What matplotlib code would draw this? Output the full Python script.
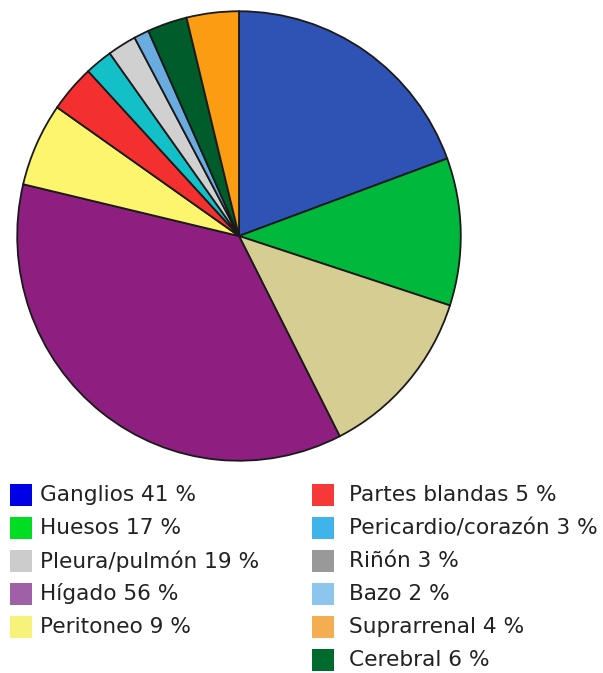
import matplotlib.pyplot as plt
from matplotlib.patches import Rectangle

# slices in drawing order (clockwise from top), sizes as drawn in the picture (%)
slice_names = ["Ganglios", "Huesos", "Pleura/pulmón", "Hígado", "Peritoneo",
               "Partes blandas", "Pericardio/corazón", "Riñón", "Bazo",
               "Cerebral", "Suprarrenal"]
slice_share = [19.4, 10.6, 12.5, 36.2, 6.0, 3.4, 2.0, 2.1, 1.1, 2.9, 3.8]
slice_colors = ["#2f52b5", "#00b83c", "#d6cd92", "#8e1e80", "#fdf56e",
                "#f42f2f", "#14c0c8", "#d0d0d0", "#6aacdf", "#005c2a", "#fb9d12"]

# legend entries
left_labels = ["Ganglios 41 %", "Huesos 17 %", "Pleura/pulmón 19 %",
               "Hígado 56 %", "Peritoneo 9 %"]
left_colors = ["#0000e6", "#00dd22", "#cccccc", "#a060a8", "#f6f27a"]
right_labels = ["Partes blandas 5 %", "Pericardio/corazón 3 %", "Riñón 3 %",
                "Bazo 2 %", "Suprarrenal 4 %", "Cerebral 6 %"]
right_colors = ["#f73838", "#3fb4ea", "#999999", "#8cc6ef", "#f4ad52", "#006b2c"]

W, H = 603, 673
fig = plt.figure(figsize=(W/100, H/100), dpi=100)
fig.patch.set_facecolor("white")

# pie is very slightly taller than wide in the reference
cx, cy, rx, ry = 239, 236, 224, 227
ax = fig.add_axes([(cx-rx)/W, (H-cy-ry)/H, 2*rx/W, 2*ry/H])
ax.pie(slice_share, colors=slice_colors, startangle=90, counterclock=False,
       wedgeprops=dict(edgecolor="#1a1a1a", linewidth=1.3))
ax.set_xlim(-1.01, 1.01)
ax.set_ylim(-1.01, 1.01)
ax.set_aspect("auto")
ax.axis("off")

def legend_col(labels, colors, x_box, x_text, y0, dy):
    for i, (lab, col) in enumerate(zip(labels, colors)):
        yc = y0 + i*dy
        fig.patches.append(Rectangle(((x_box)/W, (H-yc-11)/H), 22/W, 22/H,
                                     transform=fig.transFigure, facecolor=col,
                                     edgecolor="none"))
        fig.text(x_text/W, (H-yc)/H, lab, fontsize=15.6, color="#222222",
                 va="center", ha="left")

legend_col(left_labels, left_colors, 10, 40, 495, 33)
legend_col(right_labels, right_colors, 312, 349, 495, 33)

fig.savefig("out.png", dpi=100, facecolor="white")
